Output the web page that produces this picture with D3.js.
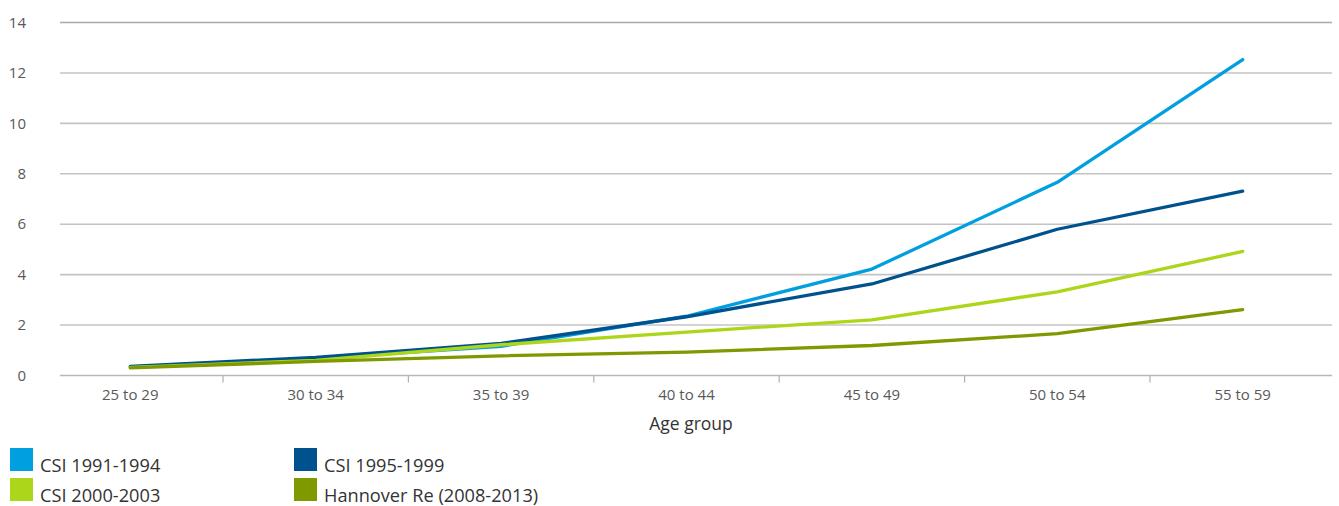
<!DOCTYPE html>
<html>
<head>
<meta charset="utf-8">
<script src="https://cdn.jsdelivr.net/npm/d3@7/dist/d3.min.js"></script>
<style>
  html, body { margin: 0; padding: 0; background: #fff; }
  svg { display: block; font-family: "Open Sans", "Noto Sans", sans-serif; }
</style>
</head>
<body>
<svg id="chart" width="1339" height="506"></svg>
<script>
const categories = ["25 to 29", "30 to 34", "35 to 39", "40 to 44", "45 to 49", "50 to 54", "55 to 59"];
const csi9194 = [0.34, 0.68, 1.16, 2.35, 4.22, 7.66, 12.53];
const csi9599 = [0.36, 0.72, 1.27, 2.33, 3.63, 5.80, 7.31];
const csi0003 = [0.32, 0.60, 1.22, 1.72, 2.21, 3.32, 4.92];
const hannover = [0.30, 0.56, 0.78, 0.93, 1.19, 1.66, 2.61];
const seriesNames = ["CSI 1991-1994", "CSI 1995-1999", "CSI 2000-2003", "Hannover Re (2008-2013)"];
const yTicks = [0, 2, 4, 6, 8, 10, 12, 14];
const xTitle = "Age group";

const colors = ["#009fdf", "#00528f", "#acd61a", "#7f9900"];
const series = [csi9194, csi9599, csi0003, hannover].map((v, i) => ({ name: seriesNames[i], values: v, color: colors[i] }));

const svg = d3.select("#chart");
const gridLeft = 60, gridRight = 1332;

const x = d3.scaleBand().domain(categories).range([37.6, 1335.4]).paddingInner(0).paddingOuter(0);
const y = d3.scaleLinear().domain([0, 14]).range([375.5, 22.5]);

// gridlines
svg.append("g").selectAll("line").data(yTicks.filter(t => t > 0)).join("line")
  .attr("x1", gridLeft).attr("x2", gridRight)
  .attr("y1", d => y(d)).attr("y2", d => y(d))
  .attr("stroke", d => d === 14 ? "#a9a9a9" : "#c4c4c4")
  .attr("stroke-width", 1.6);

// y labels
svg.append("g").selectAll("text").data(yTicks).join("text")
  .attr("x", 26).attr("y", d => y(d)).attr("dy", "0.35em")
  .attr("text-anchor", "end").attr("font-size", 15).attr("fill", "#595959")
  .text(d => d);

// x axis line
svg.append("line").attr("x1", gridLeft).attr("x2", gridRight)
  .attr("y1", y(0)).attr("y2", y(0)).attr("stroke", "#b8b8b8").attr("stroke-width", 1.6);

// x ticks at interior band boundaries
svg.append("g").selectAll("line").data(categories.slice(1)).join("line")
  .attr("x1", d => x(d)).attr("x2", d => x(d))
  .attr("y1", y(0)).attr("y2", y(0) + 7)
  .attr("stroke", "#b0b0b0").attr("stroke-width", 1.2);

// x labels
svg.append("g").selectAll("text").data(categories).join("text")
  .attr("x", d => x(d) + x.bandwidth() / 2).attr("y", 400)
  .attr("text-anchor", "middle").attr("font-size", 15).attr("fill", "#595959")
  .text(d => d);

svg.append("text").attr("x", 691).attr("y", 430)
  .attr("text-anchor", "middle").attr("font-size", 17.5).attr("fill", "#333")
  .text(xTitle);

// lines
const line = d3.line()
  .x((d, i) => x(categories[i]) + x.bandwidth() / 2)
  .y(d => y(d));

svg.append("g").selectAll("path").data(series).join("path")
  .attr("d", d => line(d.values))
  .attr("fill", "none")
  .attr("stroke", d => d.color)
  .attr("stroke-width", 3.3)
  .attr("stroke-linecap", "round")
  .attr("stroke-linejoin", "round");

// legend
const legPos = [[10, 448], [294, 448], [10, 478], [294, 478]];
const leg = svg.append("g").selectAll("g").data(series).join("g")
  .attr("transform", (d, i) => `translate(${legPos[i][0]},${legPos[i][1]})`);
leg.append("rect").attr("width", 23).attr("height", 23).attr("fill", d => d.color);
leg.append("text").attr("x", 30).attr("y", 24)
  .attr("font-size", 18.2).attr("fill", "#333")
  .text(d => d.name);
</script>
</body>
</html>
